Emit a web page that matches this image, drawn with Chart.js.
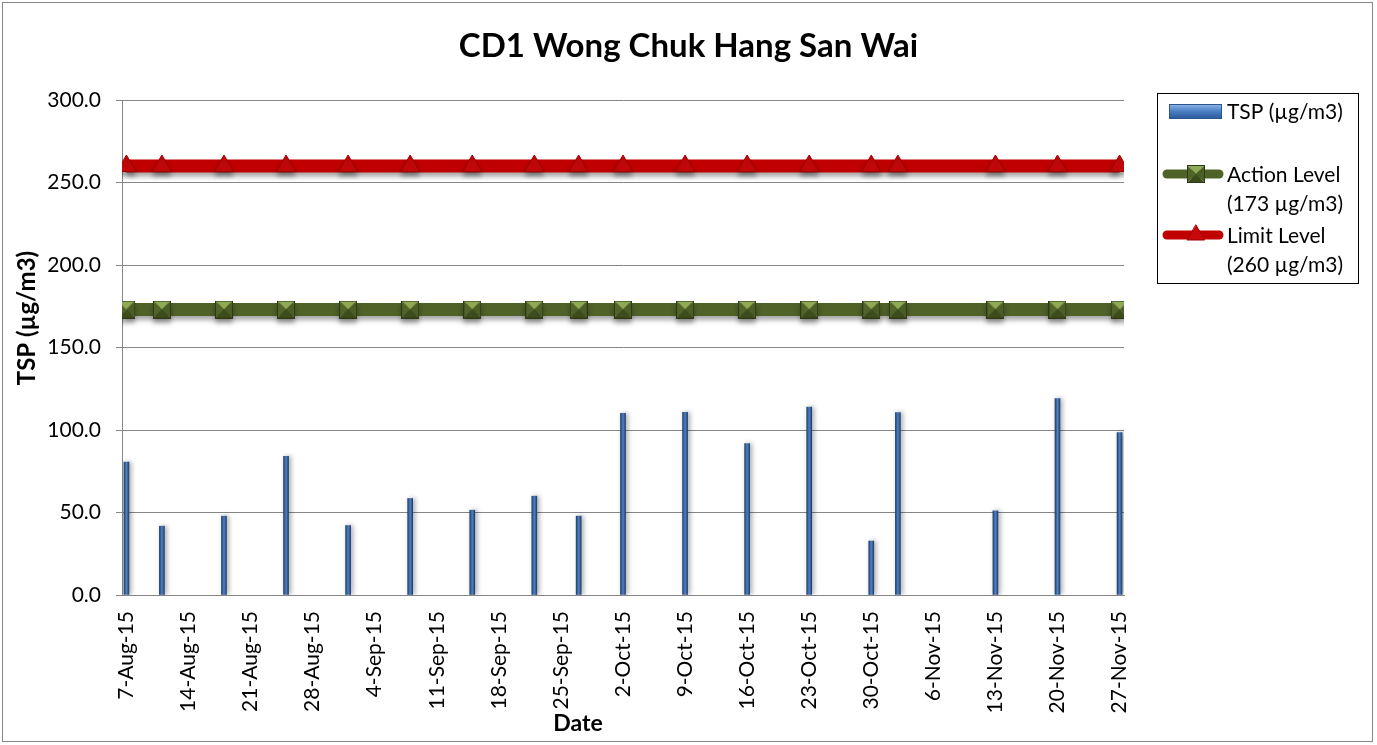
<!DOCTYPE html>
<html>
<head>
<meta charset="utf-8">
<script src="https://cdn.jsdelivr.net/npm/chart.js@4.4.1/dist/chart.umd.min.js"></script>
<style>
  html, body { margin: 0; padding: 0; background: #fff; }
  #wrap { width: 1377px; height: 745px; position: relative; }
</style>
</head>
<body>
<div id="wrap"><canvas id="tspChart" width="1377" height="745"></canvas></div>
<script>
const sampleDates = ["2015-08-07", "2015-08-11", "2015-08-18", "2015-08-25", "2015-09-01", "2015-09-08",
  "2015-09-15", "2015-09-22", "2015-09-27", "2015-10-02", "2015-10-09", "2015-10-16",
  "2015-10-23", "2015-10-30", "2015-11-02", "2015-11-13", "2015-11-20", "2015-11-27"];
const tspValues = [80.6, 41.7, 47.8, 84.1, 42.1, 58.5, 51.4, 59.9, 47.8, 110.1, 110.7, 91.8,
  113.9, 32.7, 110.5, 51.0, 119.0, 98.4];
const actionLevel = 173;
const limitLevel = 260;
const tickLabels = ["7-Aug-15", "14-Aug-15", "21-Aug-15", "28-Aug-15", "4-Sep-15", "11-Sep-15",
  "18-Sep-15", "25-Sep-15", "2-Oct-15", "9-Oct-15", "16-Oct-15", "23-Oct-15", "30-Oct-15",
  "6-Nov-15", "13-Nov-15", "20-Nov-15", "27-Nov-15"];
const yTicks = [0, 50, 100, 150, 200, 250, 300];

const FONT = "Lato, 'Open Sans', sans-serif";
const MONTHS = ["Jan", "Feb", "Mar", "Apr", "May", "Jun", "Jul", "Aug", "Sep", "Oct", "Nov", "Dec"];
const DAY = 86400000;
const origin = Date.UTC(2015, 7, 7);

// days since 7-Aug-15, used as the linear x value
const isoToDay = (s) => {
  const [y, m, d] = s.split("-").map(Number);
  return (Date.UTC(y, m - 1, d) - origin) / DAY;
};
const labelToDay = (s) => {
  const [d, mon, yy] = s.split("-");
  return (Date.UTC(2000 + Number(yy), MONTHS.indexOf(mon), Number(d)) - origin) / DAY;
};
const dayToLabel = (v) => {
  const dt = new Date(origin + v * DAY);
  return dt.getUTCDate() + "-" + MONTHS[dt.getUTCMonth()] + "-" + String(dt.getUTCFullYear()).slice(2);
};

const days = sampleDates.map(isoToDay);
const tickDays = tickLabels.map(labelToDay);

// bevelled square marker (Excel style) as a small canvas used for pointStyle
const makeSquare = (size) => {
  const c = document.createElement("canvas");
  c.width = size; c.height = size;
  const g = c.getContext("2d");
  const m = size / 2;
  const face = (pts, col) => {
    g.fillStyle = col; g.beginPath(); g.moveTo(pts[0], pts[1]);
    for (let i = 2; i < pts.length; i += 2) g.lineTo(pts[i], pts[i + 1]);
    g.closePath(); g.fill();
  };
  face([0, 0, size, 0, m, m], "#8fa955");
  face([0, 0, m, m, 0, size], "#51652a");
  face([size, 0, size, size, m, m], "#4b5e25");
  face([0, size, m, m, size, size], "#3c4c1c");
  g.strokeStyle = "#2f3b15"; g.lineWidth = 1;
  g.strokeRect(0.5, 0.5, size - 1, size - 1);
  return c;
};
const squareMarker = makeSquare(18);

const barFill = (ctx) => {
  const chart = ctx.chart;
  if (!chart.chartArea || !ctx.raw) return "#2c5690";
  const x = chart.scales.x.getPixelForValue(ctx.raw.x);
  const g = chart.ctx.createLinearGradient(x - 3, 0, x + 3, 0);
  g.addColorStop(0, "#17335c");
  g.addColorStop(0.5, "#4f82c4");
  g.addColorStop(1, "#17335c");
  return g;
};

// soft drop shadow under the level lines, like the Excel original
const shadowPlugin = {
  id: "shadow",
  beforeDatasetDraw(chart, args) {
    const ctx = chart.ctx;
    ctx.save();
    ctx.shadowColor = "rgba(0,0,0,0.35)";
    ctx.shadowBlur = 5;
    ctx.shadowOffsetY = args.meta.type === "line" ? 4 : 0;
    ctx.shadowOffsetX = args.meta.type === "line" ? 0 : 2;
  },
  afterDatasetDraw(chart) { chart.ctx.restore(); }
};

// frame, title, axis titles and the boxed legend
const decorPlugin = {
  id: "decor",
  afterDraw(chart) {
    const ctx = chart.ctx;
    const ca = chart.chartArea;
    const ds = chart.data.datasets;
    ctx.save();
    ctx.strokeStyle = "#868686";
    ctx.lineWidth = 1;
    ctx.strokeRect(2.5, 2.5, 1370, 739);

    ctx.fillStyle = "#000";
    ctx.textAlign = "center";
    ctx.textBaseline = "alphabetic";
    ctx.font = "bold 33px " + FONT;
    ctx.fillText("CD1 Wong Chuk Hang San Wai", chart.width / 2, 57);

    ctx.textBaseline = "middle";
    ctx.font = "bold 23px " + FONT;
    ctx.fillText("Date", (ca.left + ca.right) / 2 - 45, 724);
    ctx.save();
    ctx.translate(27, 318);
    ctx.rotate(-Math.PI / 2);
    ctx.font = "bold 24px " + FONT;
    ctx.fillText("TSP (µg/m3)", 0, 0);
    ctx.restore();

    // legend box
    ctx.strokeStyle = "#000";
    ctx.lineWidth = 1;
    ctx.strokeRect(1157.5, 93.5, 201, 190);
    const iconL = 1167, iconR = 1222, iconC = 1196, textX = 1227;

    const g = ctx.createLinearGradient(0, 104, 0, 119);
    g.addColorStop(0, "#8fb6ea");
    g.addColorStop(0.5, "#4a7ec4");
    g.addColorStop(1, "#2a5797");
    ctx.fillStyle = g;
    ctx.fillRect(iconL + 2, 104, iconR - iconL - 2, 15);
    ctx.strokeStyle = "#2c5690";
    ctx.strokeRect(iconL + 2.5, 104.5, iconR - iconL - 3, 14);

    const lineIcon = (d, y) => {
      ctx.strokeStyle = d.borderColor;
      ctx.lineWidth = 9;
      ctx.lineCap = "round";
      ctx.beginPath();
      ctx.moveTo(iconL, y);
      ctx.lineTo(iconR - 3, y);
      ctx.stroke();
      ctx.lineWidth = 1;
      ctx.fillStyle = d.pointBackgroundColor;
      ctx.strokeStyle = d.pointBorderColor;
      Chart.helpers.drawPoint(ctx, {pointStyle: d.pointStyle, radius: d.pointRadius - 1, rotation: 0, borderWidth: 1}, iconC, y);
    };
    lineIcon(ds[1], 174);
    lineIcon(ds[2], 235);

    ctx.fillStyle = "#000";
    ctx.font = "21px " + FONT;
    ctx.textAlign = "left";
    ctx.textBaseline = "middle";
    ctx.fillText(ds[0].label, textX, 112);
    ctx.fillText("Action Level", textX, 175);
    ctx.fillText("(" + actionLevel + " µg/m3)", textX, 204);
    ctx.fillText("Limit Level", textX, 236);
    ctx.fillText("(" + limitLevel + " µg/m3)", textX, 265);
    ctx.restore();
  }
};

new Chart(document.getElementById("tspChart"), {
  type: "bar",
  data: {
    datasets: [
      {
        type: "bar", label: "TSP (µg/m3)",
        data: days.map((d, i) => ({x: d, y: tspValues[i]})),
        backgroundColor: barFill, borderWidth: 0, barThickness: 5, order: 2
      },
      {
        type: "line", label: "Action Level (173 µg/m3)",
        data: days.map((d) => ({x: d, y: actionLevel})),
        borderColor: "#4f6228", borderWidth: 13, tension: 0,
        pointStyle: squareMarker, pointRadius: 12, pointBackgroundColor: "#5d7532",
        pointBorderColor: "#39481b", pointBorderWidth: 1, order: 1
      },
      {
        type: "line", label: "Limit Level (260 µg/m3)",
        data: days.map((d) => ({x: d, y: limitLevel})),
        borderColor: "#c00000", borderWidth: 13, tension: 0,
        pointStyle: "triangle", pointRadius: 11, pointBackgroundColor: "#c8080a",
        pointBorderColor: "#a00000", pointBorderWidth: 1, order: 0
      }
    ]
  },
  options: {
    responsive: false, animation: false,
    layout: { padding: { top: 100, right: 253, bottom: 0, left: 0 } },
    plugins: {
      legend: { display: false },
      tooltip: { enabled: false },
      title: { display: false }
    },
    scales: {
      x: {
        type: "linear", offset: false, min: -0.5, max: tickDays[tickDays.length - 1] + 0.5,
        afterBuildTicks: (s) => { s.ticks = tickDays.map((v) => ({value: v})); },
        afterFit: (s) => { s.height = 150; },
        ticks: {
          autoSkip: false, maxRotation: 90, minRotation: 90, padding: 16, color: "#000",
          font: { family: FONT, size: 21 },
          callback: (v) => dayToLabel(v)
        },
        grid: { display: true, color: "rgba(0,0,0,0)", drawTicks: false, offset: false },
        border: { color: "#868686", width: 1 }
      },
      y: {
        min: 0, max: 300,
        afterBuildTicks: (s) => { s.ticks = yTicks.map((v) => ({value: v})); },
        afterFit: (s) => { s.width = 122; },
        ticks: {
          padding: 15, color: "#000", font: { family: FONT, size: 21 },
          callback: (v) => v.toFixed(1)
        },
        grid: { color: "#868686", tickLength: 6, lineWidth: 1 },
        border: { color: "#868686", width: 1 }
      }
    }
  },
  plugins: [shadowPlugin, decorPlugin]
});
</script>
</body>
</html>
